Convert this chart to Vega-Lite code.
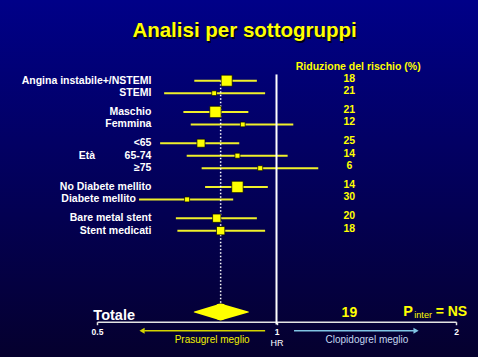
{
  "$schema": "https://vega.github.io/schema/vega-lite/v6.json",
  "width": 478,
  "height": 357,
  "autosize": {"type": "none"},
  "padding": 0,
  "background": "#000040",
  "config": {
    "font": "Liberation Sans",
    "view": {"stroke": null, "fill": {"gradient": "linear", "x1": 0, "y1": 0, "x2": 0, "y2": 1, "stops": [{"offset": 0, "color": "#000088"}, {"offset": 1, "color": "#05002e"}]}},
    "axisY": {"disable": true}
  },
  "datasets": {
    "sub": [
      {"label": "Angina instabile+/NSTEMI", "hr": 0.825, "lo": 0.728, "hi": 0.927, "rrr": 18, "peso": 0.97},
      {"label": "STEMI", "hr": 0.786, "lo": 0.648, "hi": 0.957, "rrr": 21, "peso": 0.42},
      {"label": "Maschio", "hr": 0.79, "lo": 0.698, "hi": 0.897, "rrr": 21, "peso": 1.0},
      {"label": "Femmina", "hr": 0.878, "lo": 0.718, "hi": 1.067, "rrr": 12, "peso": 0.42},
      {"label": "<65", "hr": 0.747, "lo": 0.638, "hi": 0.866, "rrr": 25, "peso": 0.71},
      {"label": "65-74", "hr": 0.86, "lo": 0.707, "hi": 1.044, "rrr": 14, "peso": 0.44},
      {"label": "≥75", "hr": 0.939, "lo": 0.749, "hi": 1.175, "rrr": 6, "peso": 0.44},
      {"label": "No Diabete mellito", "hr": 0.86, "lo": 0.759, "hi": 0.967, "rrr": 14, "peso": 1.0},
      {"label": "Diabete mellito", "hr": 0.708, "lo": 0.588, "hi": 0.846, "rrr": 30, "peso": 0.44},
      {"label": "Bare metal stent", "hr": 0.794, "lo": 0.678, "hi": 0.927, "rrr": 20, "peso": 0.73},
      {"label": "Stent medicati", "hr": 0.806, "lo": 0.682, "hi": 0.957, "rrr": 18, "peso": 0.73}
    ],
    "tot": [
      {"label": "Totale", "hr": 0.806, "lo": 0.728, "hi": 0.897, "rrr": 19}
    ]
  },
  "layer": [
    {
      "data": {"name": "sub"},
      "mark": {"type": "rule", "color": "#f0f02a", "strokeWidth": 2},
      "encoding": {
        "x": {"field": "lo", "type": "quantitative",
          "scale": {"type": "log", "domain": [0.5, 2], "range": [97, 456], "nice": false},
          "axis": {"title": "HR", "values": [0.5, 1, 2], "format": ".1~f", "offset": -35.3, "grid": false,
            "domainColor": "#e4e4e4", "domainWidth": 1.6, "tickColor": "#e4e4e4", "tickSize": 3, "tickWidth": 1.5,
            "labelColor": "#ffffff", "labelFont": "Liberation Sans", "labelFontSize": 8.5, "labelFontWeight": "bold",
            "labelPadding": 3, "labelFlush": false, "labelOverlap": false,
            "titleColor": "#ffffff", "titleFont": "Liberation Sans", "titleFontSize": 9, "titleFontWeight": "normal", "titlePadding": 2.5}},
        "x2": {"field": "hi"},
        "y": {"field": "label", "type": "nominal",
          "scale": {"type": "point", "padding": 0, "range": [74.45, 330.7],
            "domain": ["_0","Angina instabile+/NSTEMI","_1","STEMI","_2","_3","Maschio","_4","Femmina","_5","_6","<65","_7","65-74","_8","≥75","_9","_10","No Diabete mellito","_11","Diabete mellito","_12","_13","Bare metal stent","_14","Stent medicati","_15","_16","_17","_18","_19","_20","_21","_22","_23","_24","_25","_26","Totale","_27","_28","frecce"]}}
      }
    },
    {
      "data": {"name": "tot"},
      "mark": {"type": "rule", "color": "#ffffff", "strokeWidth": 1.5, "strokeDash": [1.5, 2]},
      "encoding": {
        "x": {"field": "hr", "type": "quantitative"},
        "y": {"datum": "Angina instabile+/NSTEMI", "type": "nominal"},
        "y2": {"datum": "Totale"}
      }
    },
    {
      "data": {"values": [{}]},
      "mark": {"type": "rule", "color": "#ffffff", "strokeWidth": 2},
      "encoding": {
        "x": {"datum": 1, "type": "quantitative"},
        "y": {"datum": "_0", "type": "nominal"},
        "y2": {"datum": "_28"}
      }
    },
    {
      "data": {"name": "sub"},
      "mark": {"type": "point", "shape": "square", "filled": true, "fill": "#ffff00", "stroke": "#000000", "strokeWidth": 0.7, "opacity": 1},
      "encoding": {
        "x": {"field": "hr", "type": "quantitative"},
        "y": {"field": "label", "type": "nominal"},
        "size": {"field": "peso", "type": "quantitative", "scale": {"type": "pow", "exponent": 2, "domain": [0, 1], "range": [0, 130]}, "legend": null}
      }
    },
    {
      "data": {"name": "tot"},
      "transform": [{"fold": ["lo", "hr", "hi"], "as": ["key", "value"]}],
      "mark": {"type": "trail", "color": "#ffff00"},
      "encoding": {
        "x": {"field": "value", "type": "quantitative"},
        "y": {"field": "label", "type": "nominal"},
        "order": {"field": "value", "type": "quantitative"},
        "size": {"condition": {"test": "datum.key === 'hr'", "value": 17}, "value": 0}
      }
    },
    {
      "data": {"name": "sub"},
      "transform": [{"filter": "datum.lo >= 0.62"}],
      "mark": {"type": "text", "align": "right", "baseline": "middle", "color": "#ffffff", "fontSize": 10.5, "fontWeight": "bold"},
      "encoding": {
        "x": {"datum": 0.617, "type": "quantitative"},
        "y": {"field": "label", "type": "nominal"},
        "text": {"field": "label"}
      }
    },
    {
      "data": {"name": "sub"},
      "transform": [{"filter": "datum.lo < 0.62"}],
      "mark": {"type": "text", "align": "right", "baseline": "middle", "color": "#ffffff", "fontSize": 10.5, "fontWeight": "bold", "dx": -3},
      "encoding": {
        "x": {"field": "lo", "type": "quantitative"},
        "y": {"field": "label", "type": "nominal"},
        "text": {"field": "label"}
      }
    },
    {
      "data": {"name": "sub"},
      "mark": {"type": "text", "align": "center", "baseline": "middle", "color": "#ffff00", "fontSize": 10.5, "fontWeight": "bold", "dy": -2},
      "encoding": {
        "x": {"datum": 1.325, "type": "quantitative"},
        "y": {"field": "label", "type": "nominal"},
        "text": {"field": "rrr"}
      }
    },
    {
      "data": {"values": [{}]},
      "mark": {"type": "text", "align": "center", "baseline": "middle", "color": "#ffff00", "fontSize": 10.5, "fontWeight": "bold", "dy": -14},
      "encoding": {
        "x": {"datum": 1.371, "type": "quantitative"},
        "y": {"datum": "Angina instabile+/NSTEMI", "type": "nominal"},
        "text": {"value": "Riduzione del rischio (%)"}
      }
    },
    {
      "data": {"values": [{}]},
      "mark": {"type": "text", "align": "center", "baseline": "middle", "color": "#ffffff", "fontSize": 10.5, "fontWeight": "bold"},
      "encoding": {
        "x": {"datum": 0.481, "type": "quantitative"},
        "y": {"datum": "65-74", "type": "nominal"},
        "text": {"value": "Età"}
      }
    },
    {
      "data": {"name": "tot"},
      "mark": {"type": "text", "align": "left", "baseline": "alphabetic", "color": "#ffffff", "fontSize": 14.5, "fontWeight": "bold", "dy": 8},
      "encoding": {
        "x": {"datum": 0.493, "type": "quantitative"},
        "y": {"field": "label", "type": "nominal"},
        "text": {"field": "label"}
      }
    },
    {
      "data": {"name": "tot"},
      "mark": {"type": "text", "align": "center", "baseline": "middle", "color": "#ffff00", "fontSize": 14, "fontWeight": "bold", "dy": 1},
      "encoding": {
        "x": {"datum": 1.325, "type": "quantitative"},
        "y": {"field": "label", "type": "nominal"},
        "text": {"field": "rrr"}
      }
    },
    {
      "data": {"values": [{}]},
      "mark": {"type": "text", "align": "left", "baseline": "alphabetic", "color": "#ffff00", "fontSize": 14.5, "fontWeight": "bold", "dy": 3.7},
      "encoding": {
        "x": {"datum": 1.632, "type": "quantitative"},
        "y": {"datum": "Totale", "type": "nominal"},
        "text": {"value": "P"}
      }
    },
    {
      "data": {"values": [{}]},
      "mark": {"type": "text", "align": "left", "baseline": "alphabetic", "color": "#ffff00", "fontSize": 9, "fontWeight": "normal", "dy": 6.3},
      "encoding": {
        "x": {"datum": 1.703, "type": "quantitative"},
        "y": {"datum": "Totale", "type": "nominal"},
        "text": {"value": "inter"}
      }
    },
    {
      "data": {"values": [{}]},
      "mark": {"type": "text", "align": "left", "baseline": "alphabetic", "color": "#ffff00", "fontSize": 14, "fontWeight": "bold", "dy": 3.7},
      "encoding": {
        "x": {"datum": 1.849, "type": "quantitative"},
        "y": {"datum": "Totale", "type": "nominal"},
        "text": {"value": "= NS"}
      }
    },
    {
      "data": {"values": [{}]},
      "mark": {"type": "rule", "color": "#d4d400", "strokeWidth": 1.5},
      "encoding": {
        "x": {"datum": 0.6, "type": "quantitative"},
        "x2": {"datum": 0.957},
        "y": {"datum": "frecce", "type": "nominal"}
      }
    },
    {
      "data": {"values": [{}]},
      "mark": {"type": "point", "shape": "triangle-left", "filled": true, "color": "#d4d400", "size": 36, "opacity": 1},
      "encoding": {
        "x": {"datum": 0.595, "type": "quantitative"},
        "y": {"datum": "frecce", "type": "nominal"}
      }
    },
    {
      "data": {"values": [{}]},
      "mark": {"type": "rule", "color": "#80c4e4", "strokeWidth": 1.5},
      "encoding": {
        "x": {"datum": 1.07, "type": "quantitative"},
        "x2": {"datum": 1.7},
        "y": {"datum": "frecce", "type": "nominal"}
      }
    },
    {
      "data": {"values": [{}]},
      "mark": {"type": "point", "shape": "triangle-right", "filled": true, "color": "#80c4e4", "size": 36, "opacity": 1},
      "encoding": {
        "x": {"datum": 1.714, "type": "quantitative"},
        "y": {"datum": "frecce", "type": "nominal"}
      }
    },
    {
      "data": {"values": [{}]},
      "mark": {"type": "text", "align": "center", "baseline": "middle", "color": "#f0f000", "fontSize": 10, "dy": 9},
      "encoding": {
        "x": {"datum": 0.78, "type": "quantitative"},
        "y": {"datum": "frecce", "type": "nominal"},
        "text": {"value": "Prasugrel meglio"}
      }
    },
    {
      "data": {"values": [{}]},
      "mark": {"type": "text", "align": "center", "baseline": "middle", "color": "#c4d8f0", "fontSize": 10, "dy": 9},
      "encoding": {
        "x": {"datum": 1.418, "type": "quantitative"},
        "y": {"datum": "frecce", "type": "nominal"},
        "text": {"value": "Clopidogrel meglio"}
      }
    },
    {
      "data": {"values": [{}]},
      "mark": {"type": "text", "align": "center", "baseline": "alphabetic", "color": "#000018", "fontSize": 20.5, "fontWeight": "bold", "dx": 1.5, "dy": -35.5},
      "encoding": {
        "x": {"datum": 0.884, "type": "quantitative"},
        "y": {"datum": "_0", "type": "nominal"},
        "text": {"value": "Analisi per sottogruppi"}
      }
    },
    {
      "data": {"values": [{}]},
      "mark": {"type": "text", "align": "center", "baseline": "alphabetic", "color": "#ffff00", "fontSize": 20.5, "fontWeight": "bold", "dy": -37},
      "encoding": {
        "x": {"datum": 0.884, "type": "quantitative"},
        "y": {"datum": "_0", "type": "nominal"},
        "text": {"value": "Analisi per sottogruppi"}
      }
    }
  ]
}
